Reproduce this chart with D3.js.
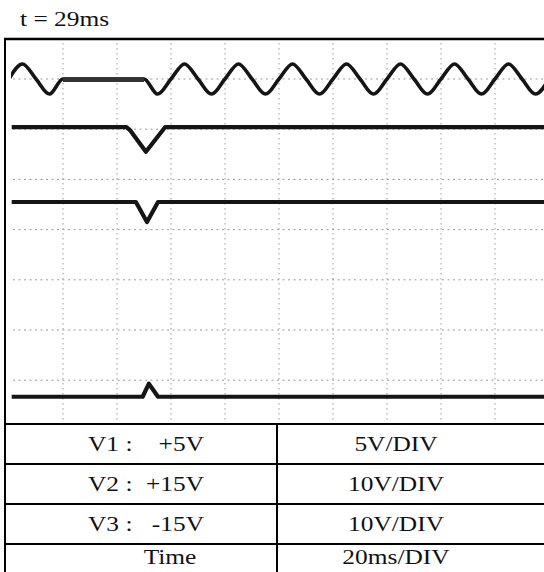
<!DOCTYPE html>
<html>
<head>
<meta charset="utf-8">
<script src="https://cdn.jsdelivr.net/npm/d3@7"></script>
<style>
  body { margin: 0; background: #fff; }
  svg { display: block; }
  text { font-family: "Liberation Serif", "Times New Roman", serif; fill: #111; }
</style>
</head>
<body>
<svg width="544" height="572"></svg>
<script>
// title shown above the scope screen
const title = "t = 29ms";

// time axis (ms) – 10 divisions of 20ms
const timeTicks = [0, 20, 40, 60, 80, 100, 120, 140, 160, 180, 200];
// vertical axis in divisions, 8 divisions
const divTicks = [-3, -2, -1, 0, 1, 2, 3];

// AC input (sine), level in divisions, flat while interrupted
const acTime = [0, 5, 10, 15, 20, 35, 50, 55, 60, 65, 70, 75, 80, 85, 90, 95, 100, 105, 110, 115, 120,
  125, 130, 135, 140, 145, 150, 155, 160, 165, 170, 175, 180, 185, 190, 195, 200];
const acLevel = [3, 3.3, 3, 2.7, 3, 3, 3, 2.7, 3, 3.3, 3, 2.7, 3, 3.3, 3, 2.7, 3, 3.3, 3, 2.7, 3,
  3.3, 3, 2.7, 3, 3.3, 3, 2.7, 3, 3.3, 3, 2.7, 3, 3.3, 3, 2.7, 3];

// V1 output
const v1Time = [1, 43.5, 45, 50.7, 57.8, 200];
const v1Level = [2.04, 2.04, 1.97, 1.55, 2.04, 2.04];
// V2 output
const v2Time = [1, 47, 51.1, 55.2, 200];
const v2Level = [0.55, 0.55, 0.15, 0.55, 0.55];
// V3 output
const v3Time = [1, 49.5, 51.8, 55.2, 200];
const v3Level = [-3.33, -3.33, -3.07, -3.33, -3.33];

// settings table
const rowNames = ["V1 :", "V2 :", "V3 :", "Time"];
const rowValues = ["+5V", "+15V", "-15V", ""];
const rowScales = ["5V/DIV", "10V/DIV", "10V/DIV", "20ms/DIV"];

const svg = d3.select("svg");
const stretch = 1.27; // the picture is wider than tall, text too

const x = d3.scaleLinear().domain([0, 200]).range([9, 549]);
const y = d3.scaleLinear().domain([-4, 4]).range([430.4, 28.8]);

const box = { left: 5, top: 39, right: 549, bottom: 424 };

svg.append("clipPath").attr("id", "scr")
  .append("rect")
  .attr("x", 11).attr("y", box.top + 2)
  .attr("width", box.right - 11).attr("height", box.bottom - box.top - 3);

const screen = svg.append("g").attr("clip-path", "url(#scr)");

// dotted graticule
screen.append("g").selectAll("line")
  .data(timeTicks.slice(1, -1))
  .enter().append("line")
  .attr("x1", d => x(d)).attr("x2", d => x(d))
  .attr("y1", box.top + 4).attr("y2", box.bottom)
  .attr("stroke", "#9a9a9a").attr("stroke-width", 1)
  .attr("stroke-dasharray", "1.5,3.5");

screen.append("g").selectAll("line")
  .data(divTicks)
  .enter().append("line")
  .attr("x1", 13).attr("x2", box.right)
  .attr("y1", d => y(d)).attr("y2", d => y(d))
  .attr("stroke", "#9a9a9a").attr("stroke-width", 1)
  .attr("stroke-dasharray", "2,3.5");

const traces = [
  { t: acTime, v: acLevel, curve: d3.curveMonotoneX, w: 3.6 },
  { t: v1Time, v: v1Level, curve: d3.curveLinear, w: 4.2 },
  { t: v2Time, v: v2Level, curve: d3.curveLinear, w: 4.2 },
  { t: v3Time, v: v3Level, curve: d3.curveLinear, w: 4.2 }
];

traces.forEach(tr => {
  const pts = tr.t.map((t, i) => [t, tr.v[i]]);
  const line = d3.line().x(d => x(d[0])).y(d => y(d[1])).curve(tr.curve);
  screen.append("path")
    .attr("d", line(pts))
    .attr("fill", "none")
    .attr("stroke", "#151515")
    .attr("stroke-width", tr.w)
    .attr("stroke-linejoin", "round");
});

// interrupted part of the AC trace looks heavier
const flat = acTime.map((t, i) => [t, acLevel[i]]).filter(d => d[0] >= 20 && d[0] <= 50);
screen.append("path")
  .attr("d", d3.line().x(d => x(d[0])).y(d => y(d[1]) + 0.6)(flat))
  .attr("fill", "none").attr("stroke", "#333").attr("stroke-width", 4.6);

// frame
svg.append("line").attr("x1", box.left).attr("x2", box.left)
  .attr("y1", box.top - 1).attr("y2", 572)
  .attr("stroke", "#000").attr("stroke-width", 2);
svg.append("line").attr("x1", box.left - 1).attr("x2", 544)
  .attr("y1", box.top).attr("y2", box.top)
  .attr("stroke", "#000").attr("stroke-width", 2.6);

// table
const rowH = 40;
const rowY = d3.range(rowNames.length).map(i => box.bottom + i * rowH);
const colX = 277;

svg.append("g").selectAll("line")
  .data(rowY)
  .enter().append("line")
  .attr("x1", box.left).attr("x2", 544)
  .attr("y1", d => d).attr("y2", d => d)
  .attr("stroke", "#000").attr("stroke-width", 2);

svg.append("line").attr("x1", colX).attr("x2", colX)
  .attr("y1", box.bottom).attr("y2", 572)
  .attr("stroke", "#000").attr("stroke-width", 2);

function label(g, str, tx, ty, anchor) {
  g.append("text")
    .attr("transform", "translate(" + tx + "," + ty + ") scale(" + stretch + ",1)")
    .attr("text-anchor", anchor)
    .attr("font-size", 20)
    .text(str);
}

const tbl = svg.append("g");
rowNames.forEach((n, i) => {
  // last row is cut by the bottom edge, keep its text inside
  const base = Math.min(rowY[i] + rowH / 2 + 7, 564);
  if (rowValues[i]) {
    label(tbl, n, 88, base, "start");
    label(tbl, rowValues[i], 204, base, "end");
  } else {
    label(tbl, n, 170, base, "middle");
  }
  label(tbl, rowScales[i], 396, base, "middle");
});

label(svg, title, 20, 26, "start");
</script>
</body>
</html>
